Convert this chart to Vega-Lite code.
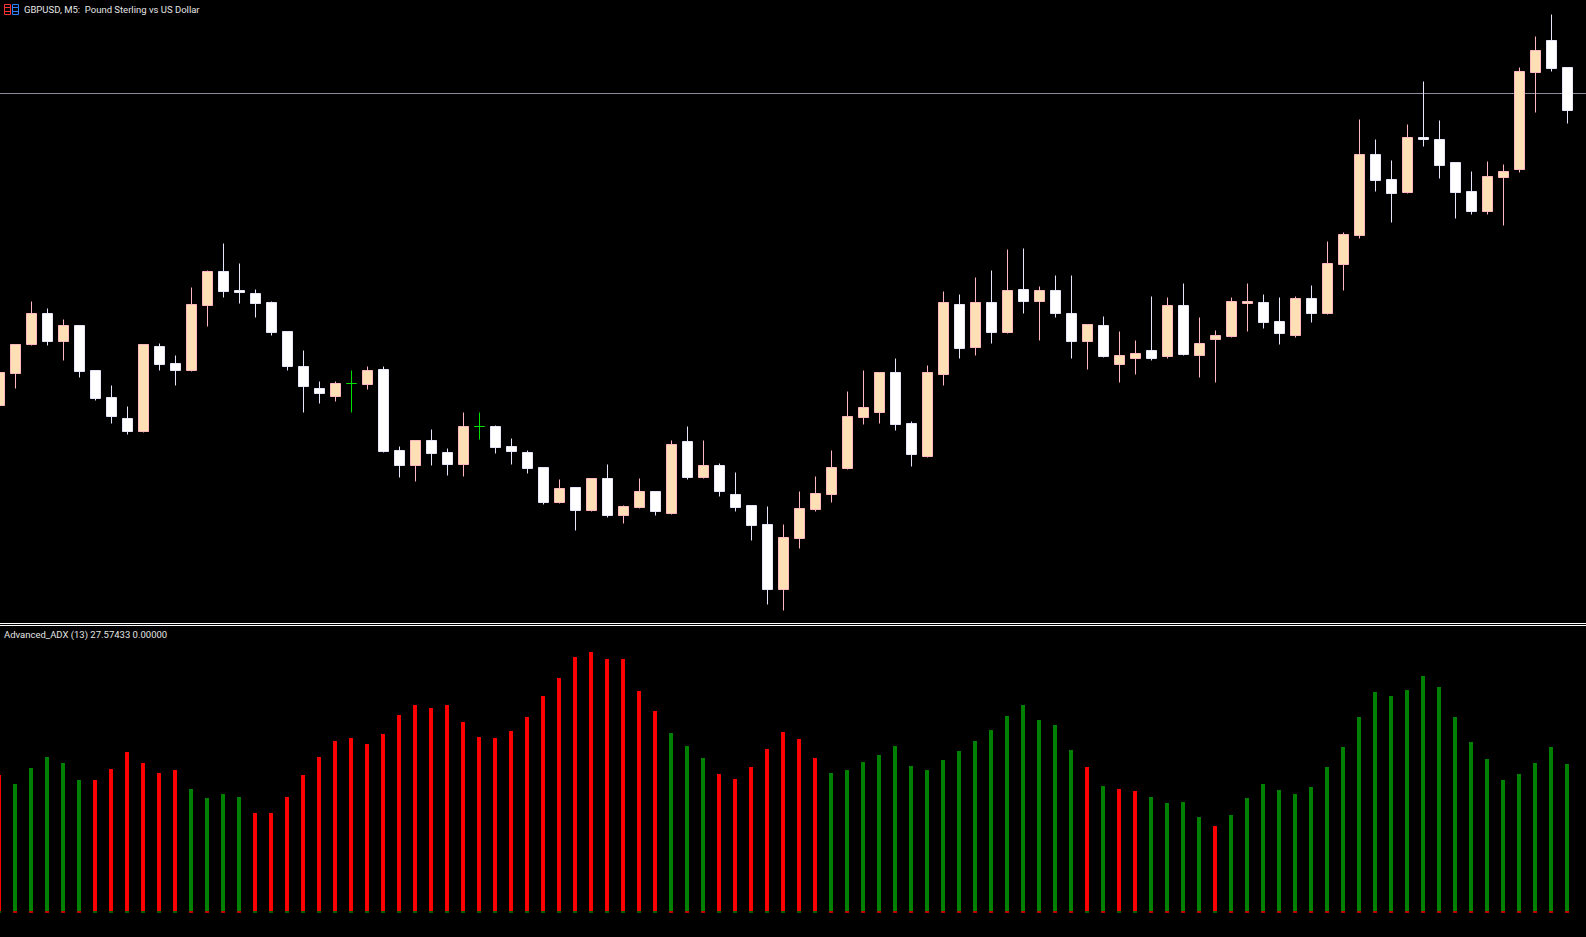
{"$schema":"https://vega.github.io/schema/vega-lite/v6.json","width":1586,"height":937,"autosize":"none","padding":0,"background":"#000000","config":{"view":{"stroke":null}},
"datasets":{
"bars":[
{"i":0,"open":1.26532,"high":1.26565,"low":1.26532,"close":1.26565,"side":"bull","adx":25.53,"trend":"fall"},
{"i":1,"open":1.26564,"high":1.26593,"low":1.26549,"close":1.26593,"side":"bull","adx":23.87,"trend":"rise"},
{"i":2,"open":1.26593,"high":1.26636,"low":1.26592,"close":1.26624,"side":"bull","adx":26.83,"trend":"rise"},
{"i":3,"open":1.26624,"high":1.26629,"low":1.26592,"close":1.26596,"side":"bear","adx":28.87,"trend":"rise"},
{"i":4,"open":1.26596,"high":1.26618,"low":1.26577,"close":1.26612,"side":"bull","adx":27.76,"trend":"rise"},
{"i":5,"open":1.26612,"high":1.26612,"low":1.2656,"close":1.26566,"side":"bear","adx":24.61,"trend":"rise"},
{"i":6,"open":1.26567,"high":1.26567,"low":1.26537,"close":1.26539,"side":"bear","adx":24.61,"trend":"fall"},
{"i":7,"open":1.2654,"high":1.26552,"low":1.26514,"close":1.26521,"side":"bear","adx":26.65,"trend":"fall"},
{"i":8,"open":1.26519,"high":1.26531,"low":1.26503,"close":1.26506,"side":"bear","adx":29.8,"trend":"fall"},
{"i":9,"open":1.26506,"high":1.26593,"low":1.26505,"close":1.26593,"side":"bull","adx":27.76,"trend":"fall"},
{"i":10,"open":1.26591,"high":1.26594,"low":1.26567,"close":1.26573,"side":"bear","adx":25.91,"trend":"fall"},
{"i":11,"open":1.26574,"high":1.26582,"low":1.26552,"close":1.26567,"side":"bear","adx":26.46,"trend":"fall"},
{"i":12,"open":1.26567,"high":1.2665,"low":1.26566,"close":1.26633,"side":"bull","adx":22.94,"trend":"rise"},
{"i":13,"open":1.26632,"high":1.26667,"low":1.26611,"close":1.26666,"side":"bull","adx":21.27,"trend":"rise"},
{"i":14,"open":1.26666,"high":1.26694,"low":1.2664,"close":1.26646,"side":"bear","adx":22.01,"trend":"rise"},
{"i":15,"open":1.26647,"high":1.26674,"low":1.26634,"close":1.26645,"side":"bear","adx":21.45,"trend":"rise"},
{"i":16,"open":1.26644,"high":1.26648,"low":1.2662,"close":1.26634,"side":"bear","adx":18.49,"trend":"fall"},
{"i":17,"open":1.26635,"high":1.26636,"low":1.26602,"close":1.26605,"side":"bear","adx":18.49,"trend":"fall"},
{"i":18,"open":1.26606,"high":1.26606,"low":1.26567,"close":1.26571,"side":"bear","adx":21.45,"trend":"fall"},
{"i":19,"open":1.26571,"high":1.26587,"low":1.26525,"close":1.26551,"side":"bear","adx":25.53,"trend":"fall"},
{"i":20,"open":1.26549,"high":1.26556,"low":1.26534,"close":1.26544,"side":"bear","adx":28.87,"trend":"fall"},
{"i":21,"open":1.26541,"high":1.26556,"low":1.26536,"close":1.26554,"side":"bull","adx":31.84,"trend":"fall"},
{"i":22,"open":1.26554,"high":1.26567,"low":1.26525,"close":1.26554,"side":"doji","adx":32.4,"trend":"fall"},
{"i":23,"open":1.26553,"high":1.26571,"low":1.26548,"close":1.26567,"side":"bull","adx":31.28,"trend":"fall"},
{"i":24,"open":1.26568,"high":1.26571,"low":1.26485,"close":1.26486,"side":"bear","adx":33.14,"trend":"fall"},
{"i":25,"open":1.26487,"high":1.26491,"low":1.2646,"close":1.26472,"side":"bear","adx":36.66,"trend":"fall"},
{"i":26,"open":1.26472,"high":1.26497,"low":1.26456,"close":1.26497,"side":"bull","adx":38.52,"trend":"fall"},
{"i":27,"open":1.26497,"high":1.26508,"low":1.26472,"close":1.26484,"side":"bear","adx":37.96,"trend":"fall"},
{"i":28,"open":1.26485,"high":1.26489,"low":1.26462,"close":1.26473,"side":"bear","adx":38.52,"trend":"fall"},
{"i":29,"open":1.26473,"high":1.26525,"low":1.26461,"close":1.26511,"side":"bull","adx":35.37,"trend":"fall"},
{"i":30,"open":1.26511,"high":1.26525,"low":1.26498,"close":1.26511,"side":"doji","adx":32.58,"trend":"fall"},
{"i":31,"open":1.26511,"high":1.26512,"low":1.26484,"close":1.2649,"side":"bear","adx":32.4,"trend":"fall"},
{"i":32,"open":1.26491,"high":1.26499,"low":1.26473,"close":1.26486,"side":"bear","adx":33.7,"trend":"fall"},
{"i":33,"open":1.26485,"high":1.26487,"low":1.26464,"close":1.26469,"side":"bear","adx":36.29,"trend":"fall"},
{"i":34,"open":1.2647,"high":1.2647,"low":1.26433,"close":1.26435,"side":"bear","adx":40.19,"trend":"fall"},
{"i":35,"open":1.26435,"high":1.26458,"low":1.26434,"close":1.26449,"side":"bull","adx":43.53,"trend":"fall"},
{"i":36,"open":1.2645,"high":1.2645,"low":1.26407,"close":1.26427,"side":"bear","adx":47.42,"trend":"fall"},
{"i":37,"open":1.26427,"high":1.26459,"low":1.26426,"close":1.26459,"side":"bull","adx":48.35,"trend":"fall"},
{"i":38,"open":1.26459,"high":1.26473,"low":1.2642,"close":1.26422,"side":"bear","adx":47.05,"trend":"fall"},
{"i":39,"open":1.26422,"high":1.26432,"low":1.26414,"close":1.26431,"side":"bull","adx":47.05,"trend":"fall"},
{"i":40,"open":1.2643,"high":1.26459,"low":1.26429,"close":1.26446,"side":"bull","adx":41.12,"trend":"fall"},
{"i":41,"open":1.26446,"high":1.26446,"low":1.26422,"close":1.26426,"side":"bear","adx":37.41,"trend":"fall"},
{"i":42,"open":1.26424,"high":1.26497,"low":1.26423,"close":1.26493,"side":"bull","adx":33.32,"trend":"rise"},
{"i":43,"open":1.26496,"high":1.26511,"low":1.26458,"close":1.2646,"side":"bear","adx":30.91,"trend":"rise"},
{"i":44,"open":1.2646,"high":1.26497,"low":1.26459,"close":1.26472,"side":"bull","adx":28.69,"trend":"rise"},
{"i":45,"open":1.26472,"high":1.26474,"low":1.26441,"close":1.26446,"side":"bear","adx":25.72,"trend":"fall"},
{"i":46,"open":1.26443,"high":1.26465,"low":1.26426,"close":1.2643,"side":"bear","adx":24.79,"trend":"fall"},
{"i":47,"open":1.26432,"high":1.26432,"low":1.26397,"close":1.26412,"side":"bear","adx":27.02,"trend":"fall"},
{"i":48,"open":1.26413,"high":1.26431,"low":1.26333,"close":1.26348,"side":"bear","adx":30.36,"trend":"fall"},
{"i":49,"open":1.26348,"high":1.26413,"low":1.26327,"close":1.264,"side":"bull","adx":33.51,"trend":"fall"},
{"i":50,"open":1.26399,"high":1.26446,"low":1.26389,"close":1.26429,"side":"bull","adx":32.21,"trend":"fall"},
{"i":51,"open":1.26428,"high":1.26461,"low":1.26426,"close":1.26444,"side":"bull","adx":28.69,"trend":"fall"},
{"i":52,"open":1.26443,"high":1.26487,"low":1.26435,"close":1.2647,"side":"bull","adx":25.91,"trend":"rise"},
{"i":53,"open":1.26469,"high":1.26546,"low":1.26468,"close":1.26521,"side":"bull","adx":26.46,"trend":"rise"},
{"i":54,"open":1.2652,"high":1.26567,"low":1.26513,"close":1.2653,"side":"bull","adx":27.95,"trend":"rise"},
{"i":55,"open":1.26525,"high":1.26565,"low":1.26514,"close":1.26565,"side":"bull","adx":29.24,"trend":"rise"},
{"i":56,"open":1.26565,"high":1.26579,"low":1.26507,"close":1.26513,"side":"bear","adx":30.91,"trend":"rise"},
{"i":57,"open":1.26514,"high":1.26516,"low":1.26471,"close":1.26483,"side":"bear","adx":27.2,"trend":"rise"},
{"i":58,"open":1.26481,"high":1.26572,"low":1.2648,"close":1.26565,"side":"bull","adx":26.46,"trend":"rise"},
{"i":59,"open":1.26563,"high":1.26646,"low":1.26552,"close":1.26635,"side":"bull","adx":28.32,"trend":"rise"},
{"i":60,"open":1.26633,"high":1.26643,"low":1.26579,"close":1.26589,"side":"bear","adx":29.99,"trend":"rise"},
{"i":61,"open":1.2659,"high":1.2666,"low":1.26582,"close":1.26635,"side":"bull","adx":31.84,"trend":"rise"},
{"i":62,"open":1.26635,"high":1.26667,"low":1.26594,"close":1.26605,"side":"bear","adx":33.88,"trend":"rise"},
{"i":63,"open":1.26605,"high":1.26688,"low":1.26604,"close":1.26647,"side":"bull","adx":36.48,"trend":"rise"},
{"i":64,"open":1.26648,"high":1.26689,"low":1.26624,"close":1.26636,"side":"bear","adx":38.52,"trend":"rise"},
{"i":65,"open":1.26636,"high":1.26651,"low":1.26597,"close":1.26647,"side":"bull","adx":35.74,"trend":"rise"},
{"i":66,"open":1.26647,"high":1.26662,"low":1.2662,"close":1.26624,"side":"bear","adx":34.81,"trend":"rise"},
{"i":67,"open":1.26624,"high":1.26662,"low":1.26579,"close":1.26596,"side":"bear","adx":30.17,"trend":"rise"},
{"i":68,"open":1.26596,"high":1.26613,"low":1.26568,"close":1.26613,"side":"bull","adx":27.02,"trend":"fall"},
{"i":69,"open":1.26612,"high":1.26621,"low":1.2658,"close":1.26581,"side":"bear","adx":23.49,"trend":"rise"},
{"i":70,"open":1.26573,"high":1.26606,"low":1.26555,"close":1.26582,"side":"bull","adx":22.94,"trend":"fall"},
{"i":71,"open":1.26579,"high":1.26597,"low":1.26563,"close":1.26584,"side":"bull","adx":22.57,"trend":"fall"},
{"i":72,"open":1.26587,"high":1.26641,"low":1.26577,"close":1.26579,"side":"bear","adx":21.45,"trend":"rise"},
{"i":73,"open":1.26581,"high":1.2664,"low":1.26579,"close":1.26632,"side":"bull","adx":20.34,"trend":"rise"},
{"i":74,"open":1.26632,"high":1.26654,"low":1.26582,"close":1.26583,"side":"bear","adx":20.53,"trend":"rise"},
{"i":75,"open":1.26582,"high":1.2662,"low":1.2656,"close":1.26594,"side":"bull","adx":17.74,"trend":"rise"},
{"i":76,"open":1.26598,"high":1.26607,"low":1.26555,"close":1.26602,"side":"bull","adx":16.07,"trend":"fall"},
{"i":77,"open":1.26601,"high":1.2664,"low":1.266,"close":1.26636,"side":"bull","adx":18.12,"trend":"rise"},
{"i":78,"open":1.26634,"high":1.26654,"low":1.26606,"close":1.26636,"side":"bull","adx":21.27,"trend":"rise"},
{"i":79,"open":1.26635,"high":1.26643,"low":1.26609,"close":1.26615,"side":"bear","adx":23.87,"trend":"rise"},
{"i":80,"open":1.26616,"high":1.2664,"low":1.26593,"close":1.26604,"side":"bear","adx":22.75,"trend":"rise"},
{"i":81,"open":1.26602,"high":1.26641,"low":1.266,"close":1.26639,"side":"bull","adx":22.01,"trend":"rise"},
{"i":82,"open":1.26639,"high":1.26652,"low":1.26615,"close":1.26624,"side":"bear","adx":23.31,"trend":"rise"},
{"i":83,"open":1.26624,"high":1.26696,"low":1.26623,"close":1.26674,"side":"bull","adx":27.02,"trend":"rise"},
{"i":84,"open":1.26673,"high":1.26705,"low":1.26647,"close":1.26703,"side":"bull","adx":30.73,"trend":"rise"},
{"i":85,"open":1.26702,"high":1.26818,"low":1.26699,"close":1.26783,"side":"bull","adx":36.29,"trend":"rise"},
{"i":86,"open":1.26783,"high":1.26798,"low":1.26746,"close":1.26757,"side":"bear","adx":40.93,"trend":"rise"},
{"i":87,"open":1.26758,"high":1.26777,"low":1.26715,"close":1.26744,"side":"bear","adx":40.19,"trend":"rise"},
{"i":88,"open":1.26745,"high":1.26813,"low":1.26744,"close":1.268,"side":"bull","adx":41.3,"trend":"rise"},
{"i":89,"open":1.268,"high":1.26856,"low":1.26791,"close":1.26798,"side":"bear","adx":43.9,"trend":"rise"},
{"i":90,"open":1.26798,"high":1.26817,"low":1.26759,"close":1.26772,"side":"bear","adx":41.86,"trend":"rise"},
{"i":91,"open":1.26775,"high":1.26775,"low":1.26719,"close":1.26745,"side":"bear","adx":36.29,"trend":"rise"},
{"i":92,"open":1.26746,"high":1.26766,"low":1.26723,"close":1.26726,"side":"bear","adx":31.66,"trend":"rise"},
{"i":93,"open":1.26726,"high":1.26776,"low":1.26723,"close":1.26761,"side":"bull","adx":28.5,"trend":"rise"},
{"i":94,"open":1.2676,"high":1.26773,"low":1.26712,"close":1.26766,"side":"bull","adx":24.61,"trend":"rise"},
{"i":95,"open":1.26768,"high":1.2687,"low":1.26765,"close":1.26866,"side":"bull","adx":25.72,"trend":"rise"},
{"i":96,"open":1.26865,"high":1.26901,"low":1.26825,"close":1.26887,"side":"bull","adx":27.76,"trend":"rise"},
{"i":97,"open":1.26897,"high":1.26923,"low":1.26866,"close":1.26869,"side":"bear","adx":30.73,"trend":"rise"},
{"i":98,"open":1.2687,"high":1.2687,"low":1.26814,"close":1.26827,"side":"bear","adx":27.57,"trend":"rise"}
],
"levels":[{"name":"price line","price":1.26844,"tone":"line"},{"name":"pane border top","price":1.26314,"tone":"pane"},{"name":"pane border bottom","price":1.26312,"tone":"pane"}],
"labels":[{"text":"GBPUSD, M5:\u00a0\u00a0Pound Sterling vs US Dollar","i":1.53,"price":1.26928},{"text":"Advanced_ADX (13) 27.57433 0.00000","i":0.28,"price":1.26303}],
"icon":[
{"part":"left","a":0.3125,"b":0.6875,"p":1.26933,"q":1.26923},
{"part":"left","a":0.3125,"b":0.6875,"p":1.2693,"q":1.2693},
{"part":"left","a":0.3125,"b":0.6875,"p":1.26926,"q":1.26926},
{"part":"right","a":0.8125,"b":1.1875,"p":1.26933,"q":1.26923},
{"part":"right","a":0.8125,"b":1.1875,"p":1.2693,"q":1.2693},
{"part":"right","a":0.8125,"b":1.1875,"p":1.26926,"q":1.26926}
]},
"resolve":{"scale":{"y":"independent","fill":"independent","stroke":"independent","color":"independent"}},
"layer":[
{"data":{"name":"levels"},"mark":{"type":"rule","strokeWidth":1},
 "encoding":{"y":{"field":"price","type":"quantitative","axis":null,"scale":{"domain":[1.260005,1.269375],"nice":false,"zero":false}},
 "stroke":{"field":"tone","type":"nominal","legend":null,"scale":{"domain":["line","pane"],"range":["#8c8c9c","#ffffff"]}}}},
{"data":{"name":"bars"},"mark":{"type":"rule","strokeWidth":1,"clip":true},
 "encoding":{"x":{"field":"i","type":"quantitative","axis":null,"scale":{"domain":[0.03125,99.15625],"nice":false,"zero":false,"padding":0}},
 "y":{"field":"low","type":"quantitative","axis":null,"scale":{"domain":[1.260005,1.269375],"nice":false,"zero":false}},
 "y2":{"field":"high"},
 "stroke":{"field":"side","type":"nominal","legend":null,"scale":{"domain":["bull","bear","doji"],"range":["#ffb6c1","#e6e6fa","#00e000"]}}}},
{"data":{"name":"bars"},"mark":{"type":"bar","size":10,"strokeWidth":1,"clip":true},
 "encoding":{"x":{"field":"i","type":"quantitative","axis":null,"scale":{"domain":[0.03125,99.15625],"nice":false,"zero":false,"padding":0}},
 "y":{"field":"open","type":"quantitative","axis":null,"scale":{"domain":[1.260005,1.269375],"nice":false,"zero":false}},
 "y2":{"field":"close"},
 "stroke":{"field":"side","type":"nominal","legend":null,"scale":{"domain":["bull","bear","doji"],"range":["#ffb6c1","#e6e6fa","#00e000"]}},
 "fill":{"field":"side","type":"nominal","legend":null,"scale":{"domain":["bull","bear","doji"],"range":["#ffdfb4","#ffffff","#00e000"]}}}},
{"data":{"name":"bars"},"mark":{"type":"bar","size":4,"xOffset":-0.5,"clip":true},
 "encoding":{"x":{"field":"i","type":"quantitative","axis":null,"scale":{"domain":[0.03125,99.15625],"nice":false,"zero":false,"padding":0}},
 "y":{"field":"adx","type":"quantitative","axis":null,"stack":null,"scale":{"domain":[-4.513,169.286],"nice":false,"zero":false}},
 "y2":{"datum":0},
 "fill":{"field":"trend","type":"nominal","legend":null,"scale":{"domain":["rise","fall"],"range":["#008000","#ff0000"]}}}},
{"data":{"name":"bars"},"mark":{"type":"bar","size":4,"xOffset":-0.5,"clip":true},
 "encoding":{"x":{"field":"i","type":"quantitative","axis":null,"scale":{"domain":[0.03125,99.15625],"nice":false,"zero":false,"padding":0}},
 "y":{"datum":0.31,"axis":null,"scale":{"domain":[-4.513,169.286],"nice":false,"zero":false}},
 "y2":{"datum":-0.06},
 "fill":{"field":"trend","type":"nominal","legend":null,"scale":{"domain":["rise","fall"],"range":["#c00000","#006000"]}}}},
{"data":{"name":"icon"},"mark":{"type":"rect","fillOpacity":0,"strokeWidth":1},
 "encoding":{"x":{"field":"a","type":"quantitative","axis":null,"scale":{"domain":[0.03125,99.15625],"nice":false,"zero":false,"padding":0}},"x2":{"field":"b"},
 "y":{"field":"p","type":"quantitative","axis":null,"scale":{"domain":[1.260005,1.269375],"nice":false,"zero":false}},"y2":{"field":"q"},
 "stroke":{"field":"part","type":"nominal","legend":null,"scale":{"domain":["left","right"],"range":["#ff3333","#2f7fff"]}}}},
{"data":{"name":"labels"},"mark":{"type":"text","align":"left","baseline":"middle","font":"Roboto","fontSize":9.5,"fill":"#e4e4e4"},
 "encoding":{"x":{"field":"i","type":"quantitative","axis":null,"scale":{"domain":[0.03125,99.15625],"nice":false,"zero":false,"padding":0}},
 "y":{"field":"price","type":"quantitative","axis":null,"scale":{"domain":[1.260005,1.269375],"nice":false,"zero":false}},
 "text":{"field":"text"}}}
]}
